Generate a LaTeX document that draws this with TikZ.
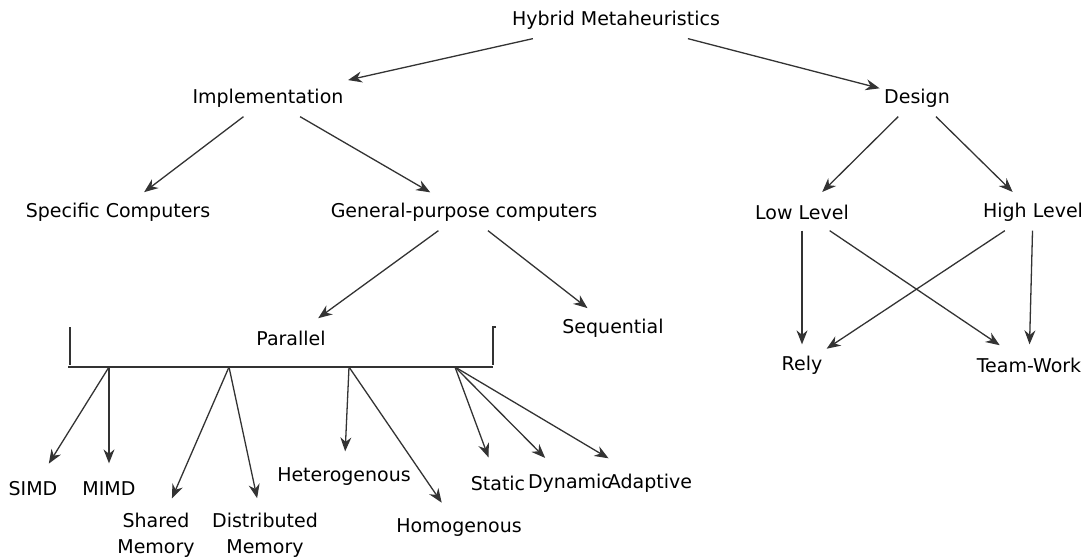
\documentclass[tikz,border=0pt]{standalone}
\usepackage{fontspec}
\setmainfont{DejaVu Sans}
\usetikzlibrary{arrows.meta}

\tikzset{
  term/.style={inner xsep=1pt, minimum height=18pt, font=\fontsize{9.5}{13}\selectfont},
  leaf/.style={term, minimum height=23pt},
  twoline/.style={term, align=center, inner ysep=6pt}
}

\begin{document}
\begin{tikzpicture}[x=0.5pt, y=-0.5pt, >={Stealth[length=7pt,width=5.5pt]}, shorten >=1pt, line width=0.65pt]
    \useasboundingbox (0,0) rectangle (1085,556);

    % upper part
    \node[term] (hm) at (616,20) {Hybrid Metaheuristics};
    \node[term] (impl) at (268,98) {Implementation};
    \node[term] (design) at (917,98) {Design};
    \node[term] (spec) at (118,212) {Specific Computers};
    \node[term] (gen) at (464,212) {General-purpose computers};
    \node[term] (low) at (802,212) {Low Level};
    \node[term] (high) at (1033,212) {High Level};
    \node[term] (par) at (291,338) {Parallel};
    \node[term] (seq) at (613,328) {Sequential};
    \node[term] (rely) at (802,365) {Rely};
    \node[term] (team) at (1029,365) {Team-Work};

    % bracket under Parallel
    \draw[black!80] (70,327) -- (70,367);
    \draw[black!80] (68,367) -- (495,367);
    \draw[black!80] (496,327) -- (493,327) -- (493,367);
    \coordinate (b1) at (109,367);
    \coordinate (b2) at (229,367);
    \coordinate (b3) at (349,367);
    \coordinate (b4) at (455,367);

    % leaves
    \node[leaf] (simd) at (33,489) {SIMD};
    \node[leaf] (mimd) at (109,489) {MIMD};
    \node[twoline] (shared) at (156,535) {Shared\\Memory};
    \node[twoline] (distr) at (265,535) {Distributed\\Memory};
    \node[leaf] (hetero) at (344,477) {Heterogenous};
    \node[leaf] (homo) at (459,528) {Homogenous};
    \node[leaf] (static) at (498,483) {Static};
    \node[leaf] (dyn) at (570,483) {Dynamic};
    \node[leaf] (adapt) at (650,483) {Adaptive};

    \path[->, black!80]
    (hm) edge (impl)
    (hm) edge (design)
    (impl) edge (spec)
    (impl) edge (gen)
    (gen) edge (par)
    (gen) edge (seq)
    (design) edge (low)
    (design) edge (high)
    (low) edge (rely)
    (low) edge (team)
    (high) edge (rely)
    (high) edge (team)
    (b1) edge (simd)
    (b1) edge (mimd)
    (b2) edge (shared)
    (b2) edge (distr)
    (b3) edge (hetero)
    (b3) edge (homo)
    (b4) edge (static)
    (b4) edge (dyn)
    (b4) edge (adapt);
\end{tikzpicture}
\end{document}
